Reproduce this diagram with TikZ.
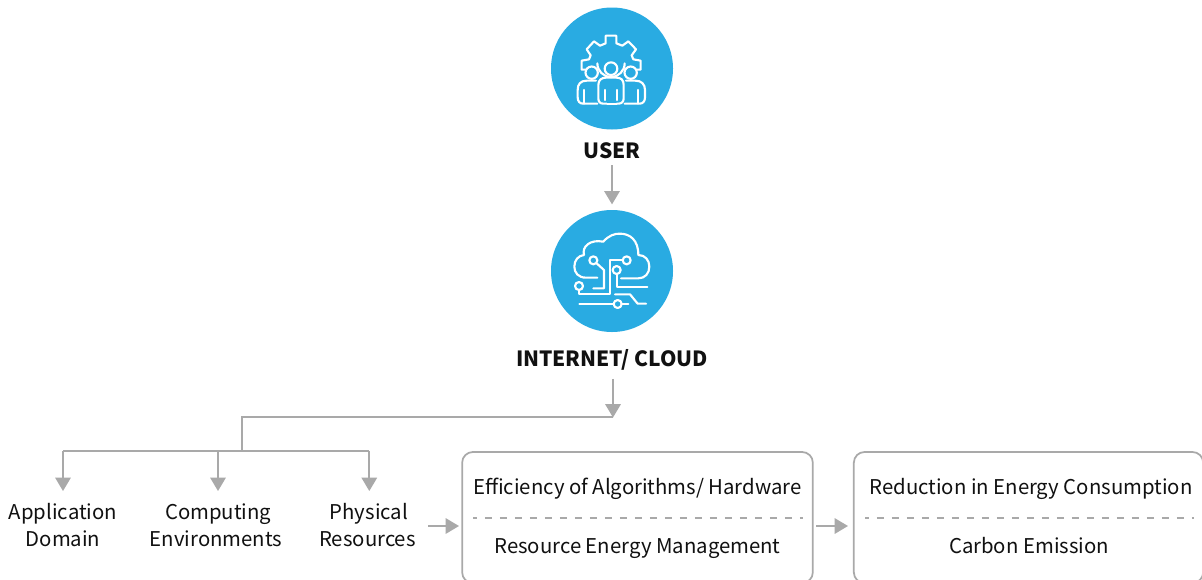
\documentclass[tikz,border=0pt]{standalone}
\usepackage{fontspec}
\setmainfont{Noto Sans CJK SC}
\usetikzlibrary{arrows.meta,calc}
\definecolor{sky}{HTML}{29ABE2}
\definecolor{conn}{HTML}{A9A9A9}
\definecolor{ink}{HTML}{111111}
\tikzset{
  disc/.style={circle,fill=sky,draw=none,minimum size=91.5pt,inner sep=0pt},
  hdr/.style={font=\fontsize{15.7}{20}\selectfont\bfseries,text=ink,inner sep=0pt,anchor=base},
  lbl/.style={font=\fontsize{15.25}{20.25}\selectfont,text=ink,align=center,inner sep=0pt},
  row/.style={lbl,anchor=base},
  wire/.style={draw=conn,line width=1.5pt},
  arr/.style={wire,-{Triangle[length=10pt,width=11.5pt]}},
  panel/.style={draw=conn,line width=1.3pt,rounded corners=8pt,minimum height=98.25pt,inner sep=0pt,fill=none},
  divider/.style={draw=conn,line width=.95pt,dash pattern=on 5.6pt off 5.65pt,dash phase=2.4pt},
  ic/.style={draw=white,line width=1.6pt,line cap=round,line join=round},
}
\begin{document}
\begin{tikzpicture}[x=.75pt,y=-.75pt]
\path[use as bounding box] (0,0) rectangle (1202,579);
\clip (0,0) rectangle (1202,579);
\fill[white] (0,0) rectangle (1202,579);

\node[disc] (user) at (612,68.5) {};
\node[disc] (cloud) at (612,271) {};
\node[hdr] (userlbl) at (612,158) {USER};
\node[hdr] (cloudlbl) at (612,366) {INTERNET/ CLOUD};

% user icon
\begin{scope}[shift={(540,10)},x=.25pt,y=-.25pt]
 \draw[ic] (137,179) -- (125,179) -- (125,152) -- (147,148) -- (152,136) -- (140,118) -- (162,94) -- (180,107) -- (197,100) -- (197,77) -- (229,77) -- (229,100) -- (247,107) -- (265,94) -- (288,118) -- (275,136) -- (280,148) -- (302,152) -- (302,179) -- (290,179);
 \draw[ic] (172,160) arc[start angle=180,end angle=0,radius=41];
 \draw[ic] (213,176) circle[radius=19];
 \draw[ic] (155,188) circle[radius=18.5];
 \draw[ic] (272,188) circle[radius=18.5];
 \draw[ic] (200,281) -- (190,281) .. controls (180,281) and (175,275) .. (175,265) -- (175,225) .. controls (175,210) and (185,203) .. (197,203) -- (230,203) .. controls (243,203) and (251,210) .. (251,225) -- (251,265) .. controls (251,275) and (245,281) .. (235,281) -- (230,281);
 \draw[ic] (202,281) -- (230,281);
 \draw[ic] (195,240) -- (195,270);
 \draw[ic] (232,240) -- (232,270);
 \draw[ic] (168,212) -- (140,212) .. controls (122,212) and (113,222) .. (113,240) -- (113,262) .. controls (113,275) and (120,281) .. (130,281) -- (172,281);
 \draw[ic] (133,240) -- (133,281);
 \draw[ic] (258,212) -- (286,212) .. controls (304,212) and (315,222) .. (315,240) -- (315,262) .. controls (315,275) and (308,281) .. (298,281) -- (254,281);
 \draw[ic] (293,240) -- (293,281);
\end{scope}

% cloud icon
\begin{scope}[shift={(540,205)},x=.25pt,y=-.25pt]
 \draw[ic] (172,218) -- (138,218) .. controls (115,218) and (103,203) .. (103,185) .. controls (103,165) and (115,152) .. (132,150) .. controls (125,125) and (150,102) .. (190,110) .. controls (205,92) and (225,85) .. (240,86) .. controls (270,86) and (295,105) .. (295,150) .. controls (315,150) and (328,165) .. (328,185) .. controls (328,205) and (315,220) .. (295,220) -- (243,220);
 \draw[ic] (160,166) circle[radius=12];
 \draw[ic] (260,166) circle[radius=12];
 \draw[ic] (230,195) circle[radius=12];
 \draw[ic] (117,243) circle[radius=12];
 \draw[ic] (233,297) circle[radius=12];
 \draw[ic] (170,175) -- (192,195) -- (192,250) -- (160,250);
 \draw[ic] (248,166) -- (210,166) -- (210,266) -- (118,266) -- (118,255);
 \draw[ic] (230,207) -- (230,247) -- (322,247);
 \draw[ic] (225,268) -- (270,268) -- (293,296) -- (318,296);
 \draw[ic] (118,297) -- (221,297);
 \draw[ic] (245,297) -- (265,297);
\end{scope}

% labels
\node[lbl] (app) at (63,525) {Application\\Domain};
\node[lbl] (comp) at (216,525) {\hspace*{3.5pt}Computing\\Environments};
\node[lbl] (phys) at (367.5,525) {\hspace*{2pt}Physical\\Resources};

% panels
\node[panel,minimum width=263pt] (p1) at (637.5,517.5) {};
\node[panel,minimum width=262pt] (p2) at (1028.5,517.5) {};
\node[row] (t1) at (637.5,494) {Efficiency of Algorithms/ Hardware};
\node[row] (t2) at (637.5,553) {Resource Energy Management};
\node[row] (t3) at (1031,494) {Reduction in Energy Consumption};
\node[row] (t4) at (1029,553) {Carbon Emission};
\coordinate (d1a) at (473,518); \coordinate (d1b) at (803,518);
\coordinate (d2a) at (865,518); \coordinate (d2b) at (1194,518);
\draw[divider] (d1a) -- (d1b);
\draw[divider] (d2a) -- (d2b);

% connectors
\coordinate (drop) at (613,417.5);
\coordinate (corner) at (613,416.5);
\coordinate (elbow) at (242.3,416.5);
\coordinate (tee) at (242.3,451);
\coordinate (busL) at (63,451);
\coordinate (busM) at (218,451);
\coordinate (busR) at (369.3,451);
\coordinate (tipL) at (63,491);
\coordinate (tipM) at (218,491);
\coordinate (tipR) at (369.3,491);
\coordinate (a1s) at (428,526); \coordinate (a1e) at (459,526);
\coordinate (a2s) at (816,526); \coordinate (a2e) at (848,526);
\draw[arr,shorten <=5pt,shorten >=4pt] (userlbl.south) -- (cloud.north);
\draw[arr,shorten <=6.5pt] (cloudlbl.south -| drop) -- (drop);
\draw[wire] (corner) -- (elbow) -- (tee);
\draw[wire,line join=miter] (busL) -- (busR);
\draw[arr] (busL) -- (tipL);
\draw[arr] (busM) -- (tipM);
\draw[arr] (busR) -- (tipR);
\draw[arr] (a1s) -- (a1e);
\draw[arr] (a2s) -- (a2e);
\end{tikzpicture}
\end{document}
